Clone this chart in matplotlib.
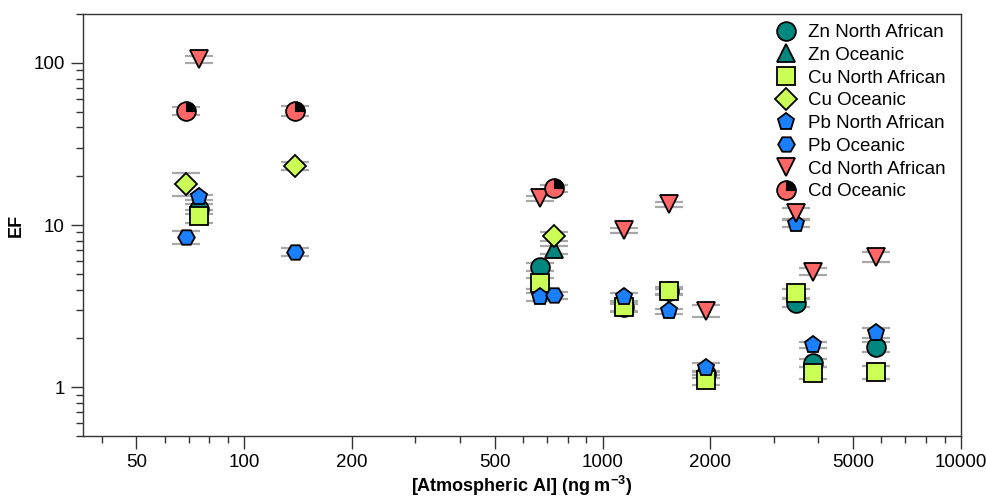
import numpy as np
import matplotlib
matplotlib.use("Agg")
import matplotlib.pyplot as plt
from matplotlib.path import Path
from matplotlib.ticker import FixedLocator, FixedFormatter, LogLocator, NullFormatter
from matplotlib.legend_handler import HandlerTuple

plt.rcParams['font.family'] = ['Liberation Sans', 'DejaVu Sans']
plt.rcParams['mathtext.fontset'] = 'custom'
plt.rcParams['mathtext.rm'] = 'Liberation Sans'
plt.rcParams['mathtext.bf'] = 'Liberation Sans:bold'

# ---- data ----
zn_na_x = [75, 667, 1151, 1528, 1937, 3467, 3873, 5796]
zn_na_y = [12.6, 5.5, 3.1, 3.9, 1.2, 3.32, 1.41, 1.77]
zn_na_e = [0.9, 0.3, 0.15, 0.15, 0.06, 0.2, 0.08, 0.12]

zn_oc_x = [730]
zn_oc_y = [7.07]
zn_oc_e = [0.4]

cu_na_x = [75, 667, 1151, 1528, 1937, 3467, 3873, 5796]
cu_na_y = [11.3, 4.37, 3.14, 3.92, 1.11, 3.80, 1.23, 1.24]
cu_na_e = [1.0, 0.35, 0.22, 0.2, 0.08, 0.25, 0.1, 0.12]

cu_oc_x = [69, 139, 730]
cu_oc_y = [18.0, 23.0, 8.5]
cu_oc_e = [2.9, 1.3, 0.5]

pb_na_x = [75, 667, 1151, 1528, 1937, 3467, 3873, 5796]
pb_na_y = [14.8, 3.62, 3.62, 2.93, 1.32, 10.2, 1.83, 2.16]
pb_na_e = [0.6, 0.2, 0.2, 0.12, 0.08, 0.5, 0.08, 0.15]

pb_oc_x = [69, 139, 730]
pb_oc_y = [8.38, 6.83, 3.69]
pb_oc_e = [0.75, 0.35, 0.2]

cd_na_x = [75, 667, 1151, 1528, 1937, 3467, 3873, 5796]
cd_na_y = [105, 14.6, 9.26, 13.4, 2.97, 11.85, 5.15, 6.36]
cd_na_e = [5.0, 0.6, 0.35, 0.5, 0.25, 0.9, 0.25, 0.45]

cd_oc_x = [69, 139, 730]
cd_oc_y = [50.5, 50.5, 16.8]
cd_oc_e = [3.0, 3.5, 0.8]

x_ticks = [50, 100, 200, 500, 1000, 2000, 5000, 10000]
y_ticks = [1, 10, 100]

TEAL = '#00877F'
LIME = '#CCFF55'
BLUE = '#1A80FF'
RED = '#FF6666'
ERRC = '#A8A8A8'

fig = plt.figure(figsize=(9.87, 4.98), dpi=100)
ax = fig.add_axes([83/987, 62/498, (961-83)/987, (436-14)/498])

series = [
    ('Zn North African', zn_na_x, zn_na_y, zn_na_e, 'o', TEAL, 13.5),
    ('Zn Oceanic', zn_oc_x, zn_oc_y, zn_oc_e, '^', TEAL, 12.5),
    ('Cu North African', cu_na_x, cu_na_y, cu_na_e, 's', LIME, 12.5),
    ('Cu Oceanic', cu_oc_x, cu_oc_y, cu_oc_e, 'D', LIME, 11.5),
    ('Pb North African', pb_na_x, pb_na_y, pb_na_e, 'p', BLUE, 12.5),
    ('Pb Oceanic', pb_oc_x, pb_oc_y, pb_oc_e, 'H', BLUE, 12.0),
    ('Cd North African', cd_na_x, cd_na_y, cd_na_e, 'v', RED, 12.5),
    ('Cd Oceanic', cd_oc_x, cd_oc_y, cd_oc_e, 'o', RED, 13.5),
]

# error bars (only the caps show), behind markers
for name, xs, ys, es, m, c, ms in series:
    ax.errorbar(xs, ys, yerr=es, fmt='none', ecolor=ERRC, elinewidth=0,
                capsize=10, capthick=1.6, zorder=1)

wedge = Path.wedge(0, 90)
handles = []
for i, (name, xs, ys, es, m, c, ms) in enumerate(series):
    h, = ax.plot(xs, ys, linestyle='none', marker=m, markersize=ms,
                 markerfacecolor=c, markeredgecolor='black', markeredgewidth=1.3,
                 zorder=3 + i)
    if name == 'Cd Oceanic':
        h2, = ax.plot(xs, ys, linestyle='none', marker=wedge, markersize=ms,
                      markerfacecolor='black', markeredgecolor='black',
                      markeredgewidth=0.8, zorder=3 + i)
        handles.append((h, h2))
    else:
        handles.append(h)

ax.set_xscale('log')
ax.set_yscale('log')
ax.set_xlim(35.5, 10000)
ax.set_ylim(0.5, 200)

ax.xaxis.set_major_locator(FixedLocator(x_ticks))
ax.xaxis.set_major_formatter(FixedFormatter([str(v) for v in x_ticks]))
ax.xaxis.set_minor_locator(LogLocator(base=10, subs=np.arange(2, 10)))
ax.xaxis.set_minor_formatter(NullFormatter())
ax.yaxis.set_major_locator(FixedLocator(y_ticks))
ax.yaxis.set_major_formatter(FixedFormatter([str(v) for v in y_ticks]))
ax.yaxis.set_minor_locator(LogLocator(base=10, subs=np.arange(2, 10)))
ax.yaxis.set_minor_formatter(NullFormatter())

ax.tick_params(which='major', direction='out', length=9, width=1, labelsize=13.5,
               color='#333333', pad=4)
ax.tick_params(which='minor', direction='out', length=5, width=1, color='#333333')
ax.tick_params(top=False, right=False, which='both')
for s in ax.spines.values():
    s.set_linewidth(1)
    s.set_color('#333333')

ax.set_xlabel(r'[Atmospheric Al] (ng m$^{\mathbf{-3}}$)', fontsize=13,
              fontweight='bold', labelpad=2)
ax.set_ylabel('EF', fontsize=13, fontweight='bold', labelpad=6)

leg = ax.legend(handles, [s[0] for s in series], loc='upper right',
                bbox_to_anchor=(0.995, 1.003), frameon=False, fontsize=13.5,
                labelspacing=0.30, handletextpad=0.45, borderaxespad=0.2,
                handler_map={tuple: HandlerTuple(ndivide=1, pad=0)},
                numpoints=1, handlelength=1.4)

fig.savefig('out.png', dpi=100)
